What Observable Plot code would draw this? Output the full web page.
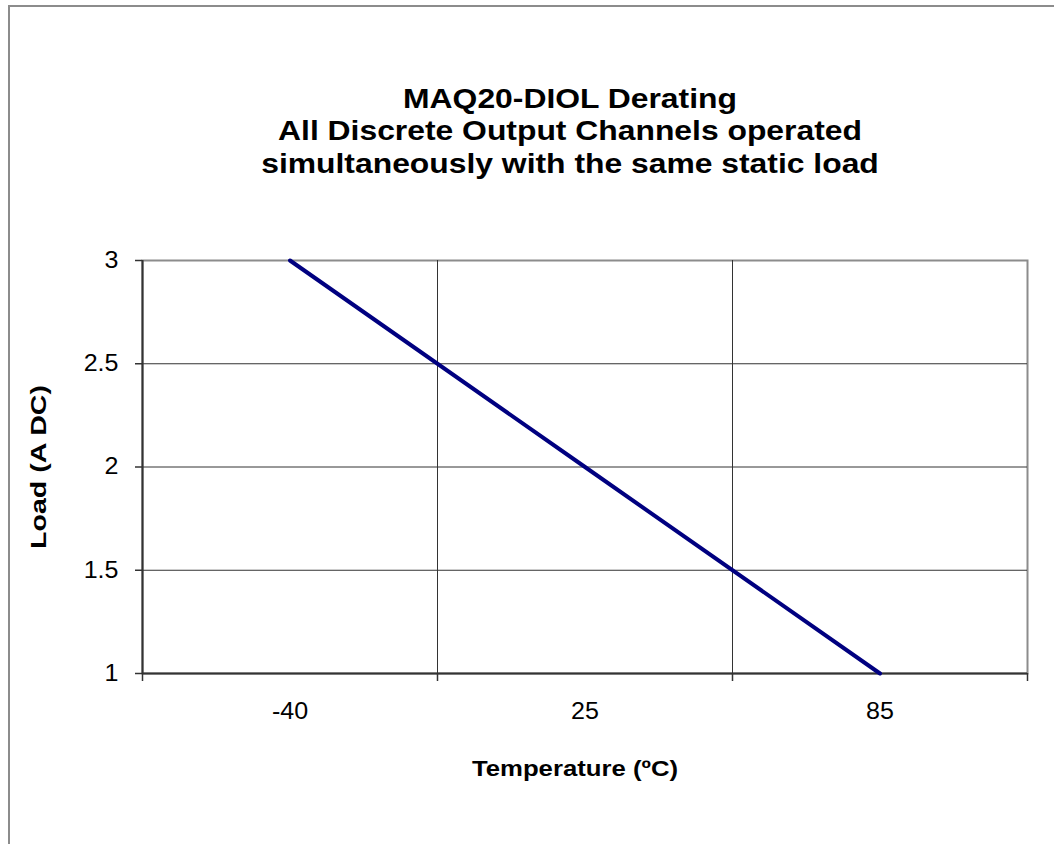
<!DOCTYPE html>
<html>
<head>
<meta charset="utf-8">
<script src="https://cdn.jsdelivr.net/npm/d3@7"></script>
<script src="https://cdn.jsdelivr.net/npm/@observablehq/plot@0.6"></script>
<style>
html, body { margin: 0; padding: 0; background: #fff; overflow: hidden; }
#wrap { position: relative; width: 1054px; height: 844px; overflow: hidden; }
#frame { position: absolute; left: 8px; top: 5px; width: 1100px; height: 900px;
  border-left: 2px solid #8c8c8c; border-top: 2px solid #8c8c8c; pointer-events: none; }
#wrap svg { position: absolute; left: 0; top: 0; }
</style>
</head>
<body>
<div id="wrap"><div id="frame"></div></div>
<script>
// ---- data ----
const temps = ["-40", "25", "85"];          // x categories (ºC)
const loads = [3, 2, 1];                     // load (A DC)
const yTicks = [1, 1.5, 2, 2.5, 3];
const titleLines = [
  "MAQ20-DIOL Derating",
  "All Discrete Output Channels operated",
  "simultaneously with the same static load"
];
const xTitle = "Temperature (ºC)";
const yTitle = "Load (A DC)";

// ---- derived tables ----
const data = temps.map((t, i) => ({i, t, load: loads[i]}));
const centers = d3.range(temps.length);
const bounds = d3.range(temps.length + 1).map(i => i - 0.5);

const font = "Arial, 'Liberation Sans', sans-serif";

const plot = Plot.plot({
  width: 1054,
  height: 844,
  marginLeft: 142,
  marginRight: 27,
  marginTop: 260,
  marginBottom: 171,
  style: {fontFamily: font, fontSize: "23px", color: "#000", background: "transparent", overflow: "visible"},
  x: {type: "linear", domain: [bounds[0], bounds[bounds.length - 1]]},
  y: {domain: [yTicks[0], yTicks[yTicks.length - 1]]},
  marks: [
    Plot.frame({stroke: "#8c8c8c", strokeWidth: 2}),
    Plot.ruleY(yTicks.slice(1, -1), {stroke: "#333", strokeWidth: 1}),
    Plot.ruleX(bounds.slice(1, -1), {stroke: "#333", strokeWidth: 1}),
    Plot.ruleX([bounds[0]], {stroke: "#333", strokeWidth: 2}),
    Plot.ruleY([yTicks[0]], {stroke: "#333", strokeWidth: 2}),
    Plot.axisY({ticks: yTicks, tickFormat: d => String(d), tickSize: 7, tickPadding: 17,
      stroke: "#333", strokeWidth: 1.5, label: null, fontSize: 23}),
    Plot.axisX({ticks: bounds, tickFormat: () => "", tickSize: 8, stroke: "#333", strokeWidth: 1.5, label: null}),
    Plot.axisX({ticks: centers, tickFormat: i => temps[i], tickSize: 0, tickPadding: 29, label: null, fontSize: 23}),
    Plot.line(data, {x: "i", y: "load", stroke: "#000080", strokeWidth: 4}),
    Plot.text([titleLines.join("\n")], {frameAnchor: "top", lineAnchor: "bottom", dx: -15, dy: -88,
      fontSize: 27, fontWeight: "bold", lineHeight: 1.2, fill: "#000"}),
    Plot.text([xTitle], {frameAnchor: "bottom", lineAnchor: "bottom", dx: -10, dy: 102,
      fontSize: 22, fontWeight: "bold", fill: "#000"}),
    Plot.text([yTitle], {frameAnchor: "left", textAnchor: "middle", lineAnchor: "middle", rotate: -90, dx: -104, dy: 0,
      fontSize: 22, fontWeight: "bold", fill: "#000"})
  ]
});

// horizontal stretch of text, as in the original rendering
function stretchNodes(nodes, k) {
  nodes.forEach(node => {
    d3.select(node).selectAll("text").each(function() {
      const t = this.getAttribute("transform") || "";
      this.setAttribute("transform", t + ` scale(${k},1)`);
    });
  });
}
const textGroups = d3.select(plot).selectAll('g[aria-label="text"]').nodes();
stretchNodes([textGroups[0]], 1.18);   // title
stretchNodes([textGroups[1]], 1.17);   // x title
stretchNodes([textGroups[2]], 1.3);    // y title
stretchNodes(d3.select(plot).selectAll('g[aria-label="y-axis tick label"]').nodes(), 1.09);
stretchNodes(d3.select(plot).selectAll('g[aria-label="x-axis tick label"]').nodes(), 1.09);

document.getElementById("wrap").appendChild(plot);
</script>
</body>
</html>
